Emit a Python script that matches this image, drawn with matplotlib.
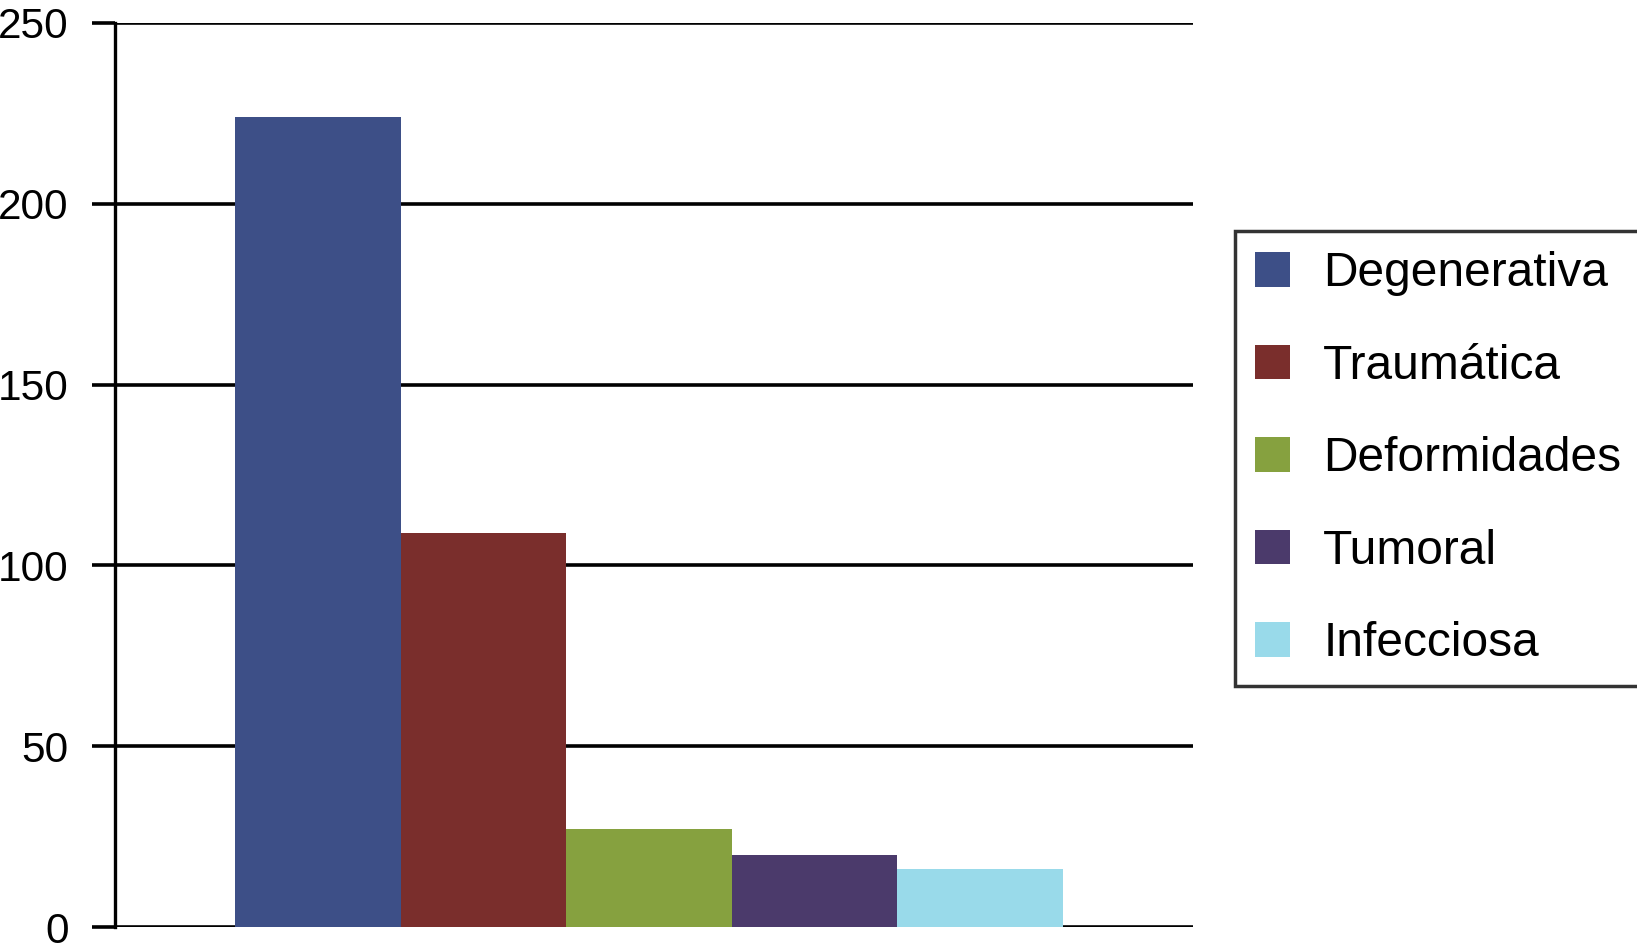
import matplotlib
matplotlib.use("Agg")
from matplotlib import pyplot as plt

categorias = ['Degenerativa', 'Traumática', 'Deformidades', 'Tumoral', 'Infecciosa']
valores = [224, 109, 27, 20, 16]
colores = ['#3d4f87', '#7a2e2c', '#86a13f', '#4b3a6b', '#99daea']
yticks = [0, 50, 100, 150, 200, 250]

plt.rcParams['font.family'] = ['Liberation Sans', 'DejaVu Sans']

fig = plt.figure(figsize=(16.37, 9.5), dpi=100)
ax = fig.add_axes([0.0703, 0.0242, 0.6585, 0.9516])

for i, (cat, val, col) in enumerate(zip(categorias, valores, colores)):
    ax.bar(i, val, width=1.0, color=col, label=cat, zorder=3)

ax.set_xlim(-1.225, 5.285)
ax.set_ylim(0, 250)
ax.set_yticks(yticks)
ax.set_xticks([])
ax.yaxis.grid(True, color='black', linewidth=2.6, zorder=1)
ax.set_axisbelow(True)
for s in ['top', 'right', 'bottom']:
    ax.spines[s].set_visible(False)
ax.spines['left'].set_linewidth(2.4)
ax.tick_params(axis='y', direction='out', length=16.5, width=2.6, pad=17, labelsize=30.5)

leg = ax.legend(loc='upper left', bbox_to_anchor=(0.7545, 0.7565), bbox_transform=fig.transFigure,
                fontsize=34.5, frameon=True, fancybox=False, borderaxespad=0,
                handlelength=0.73, handleheight=0.73, handletextpad=0.69,
                labelspacing=0.99, borderpad=0.42)
leg.get_frame().set_edgecolor('black')
leg.get_frame().set_linewidth(2.5)

plt.savefig('out.png', dpi=100)
